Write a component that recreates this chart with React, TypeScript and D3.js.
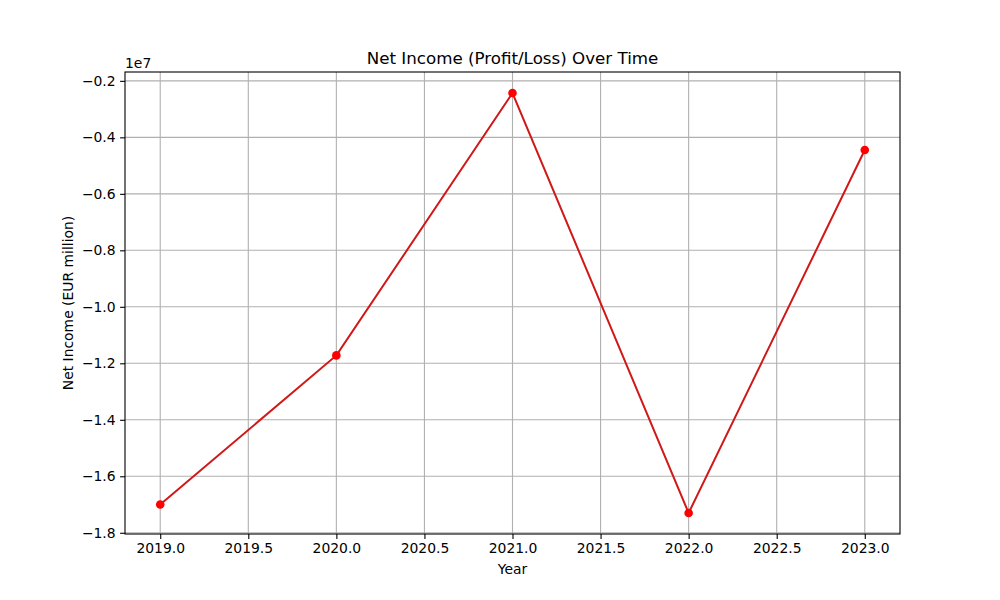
import { useEffect, useRef } from 'react';
import * as d3 from 'd3';

const years = [2019, 2020, 2021, 2022, 2023];
const netIncome = [-17000000, -11720000, -2430000, -17300000, -4450000];
const xTicks = [2019.0, 2019.5, 2020.0, 2020.5, 2021.0, 2021.5, 2022.0, 2022.5, 2023.0];
const yTicks = [-18000000, -16000000, -14000000, -12000000, -10000000, -8000000, -6000000, -4000000, -2000000];

const W = 1000;
const H = 600;
const FONT = '"DejaVu Sans", sans-serif';

export default function App() {
  const ref = useRef<SVGSVGElement>(null);

  useEffect(() => {
    if (!ref.current) return;
    const svg = d3.select(ref.current);
    svg.selectAll('*').remove();

    const margin = { top: 72, right: 100, bottom: 66, left: 125 };
    const innerW = W - margin.left - margin.right;
    const innerH = H - margin.top - margin.bottom;

    svg.append('rect').attr('width', W).attr('height', H).attr('fill', '#fff');

    const g = svg.append('g').attr('transform', `translate(${margin.left},${margin.top})`);

    // matplotlib-style 5% autoscale margins
    const [xmin, xmax] = d3.extent(years) as [number, number];
    const xPad = (xmax - xmin) * 0.05;
    const x = d3.scaleLinear().domain([xmin - xPad, xmax + xPad]).range([0, innerW]);

    const [ymin, ymax] = d3.extent(netIncome) as [number, number];
    const yPad = (ymax - ymin) * 0.05;
    const y = d3.scaleLinear().domain([ymin - yPad, ymax + yPad]).range([innerH, 0]);

    const fmtY = (v: number) => (v / 1e7).toFixed(1).replace('-', '\u2212');

    // grid
    g.append('g')
      .selectAll('line')
      .data(xTicks)
      .join('line')
      .attr('x1', d => x(d))
      .attr('x2', d => x(d))
      .attr('y1', 0)
      .attr('y2', innerH)
      .attr('stroke', '#b0b0b0')
      .attr('stroke-width', 1.1);
    g.append('g')
      .selectAll('line')
      .data(yTicks)
      .join('line')
      .attr('x1', 0)
      .attr('x2', innerW)
      .attr('y1', d => y(d))
      .attr('y2', d => y(d))
      .attr('stroke', '#b0b0b0')
      .attr('stroke-width', 1.1);

    // axes
    g.append('g')
      .attr('transform', `translate(0,${innerH})`)
      .call(
        d3
          .axisBottom(x)
          .tickValues(xTicks)
          .tickFormat(d => (d as number).toFixed(1))
          .tickSize(4.9)
          .tickPadding(4.5)
      )
      .call(gg => gg.select('.domain').remove())
      .call(gg => gg.selectAll('line').attr('stroke', '#000').attr('stroke-width', 1.1))
      .selectAll('text')
      .style('fill', '#000')
      .style('font-family', FONT)
      .style('font-size', '13.9px');

    g.append('g')
      .call(
        d3
          .axisLeft(y)
          .tickValues(yTicks)
          .tickFormat(d => fmtY(d as number))
          .tickSize(4.9)
          .tickPadding(4.5)
      )
      .call(gg => gg.select('.domain').remove())
      .call(gg => gg.selectAll('line').attr('stroke', '#000').attr('stroke-width', 1.1))
      .selectAll('text')
      .style('fill', '#000')
      .style('font-family', FONT)
      .style('font-size', '13.9px');

    g.append('rect')
      .attr('width', innerW)
      .attr('height', innerH)
      .attr('fill', 'none')
      .attr('stroke', '#000')
      .attr('stroke-width', 1.1);

    // series
    const line = d3
      .line<number>()
      .x((_, i) => x(years[i]))
      .y(d => y(d));

    g.append('path')
      .datum(netIncome)
      .attr('d', line)
      .attr('fill', 'none')
      .attr('stroke', '#d01818')
      .attr('stroke-width', 2);

    g.selectAll('circle')
      .data(netIncome)
      .join('circle')
      .attr('cx', (_, i) => x(years[i]))
      .attr('cy', d => y(d))
      .attr('r', 4.3)
      .attr('fill', '#ff0000');

    // texts
    svg.append('text')
      .attr('x', margin.left + innerW / 2)
      .attr('y', 64)
      .attr('text-anchor', 'middle')
      .style('font-family', FONT)
      .style('font-size', '16.7px')
      .text('Net Income (Profit/Loss) Over Time');

    svg.append('text')
      .attr('x', margin.left)
      .attr('y', 68)
      .style('font-family', FONT)
      .style('font-size', '13.9px')
      .text('1e7');

    svg.append('text')
      .attr('x', margin.left + innerW / 2)
      .attr('y', 574)
      .attr('text-anchor', 'middle')
      .style('font-family', FONT)
      .style('font-size', '13.9px')
      .text('Year');

    svg.append('text')
      .attr('transform', `translate(73,${margin.top + innerH / 2}) rotate(-90)`)
      .attr('text-anchor', 'middle')
      .style('font-family', FONT)
      .style('font-size', '13.9px')
      .text('Net Income (EUR million)');
  }, []);

  return (
    <svg
      ref={ref}
      width={W}
      height={H}
      style={{ position: 'absolute', left: 0, top: 0, display: 'block' }}
    />
  );
}
